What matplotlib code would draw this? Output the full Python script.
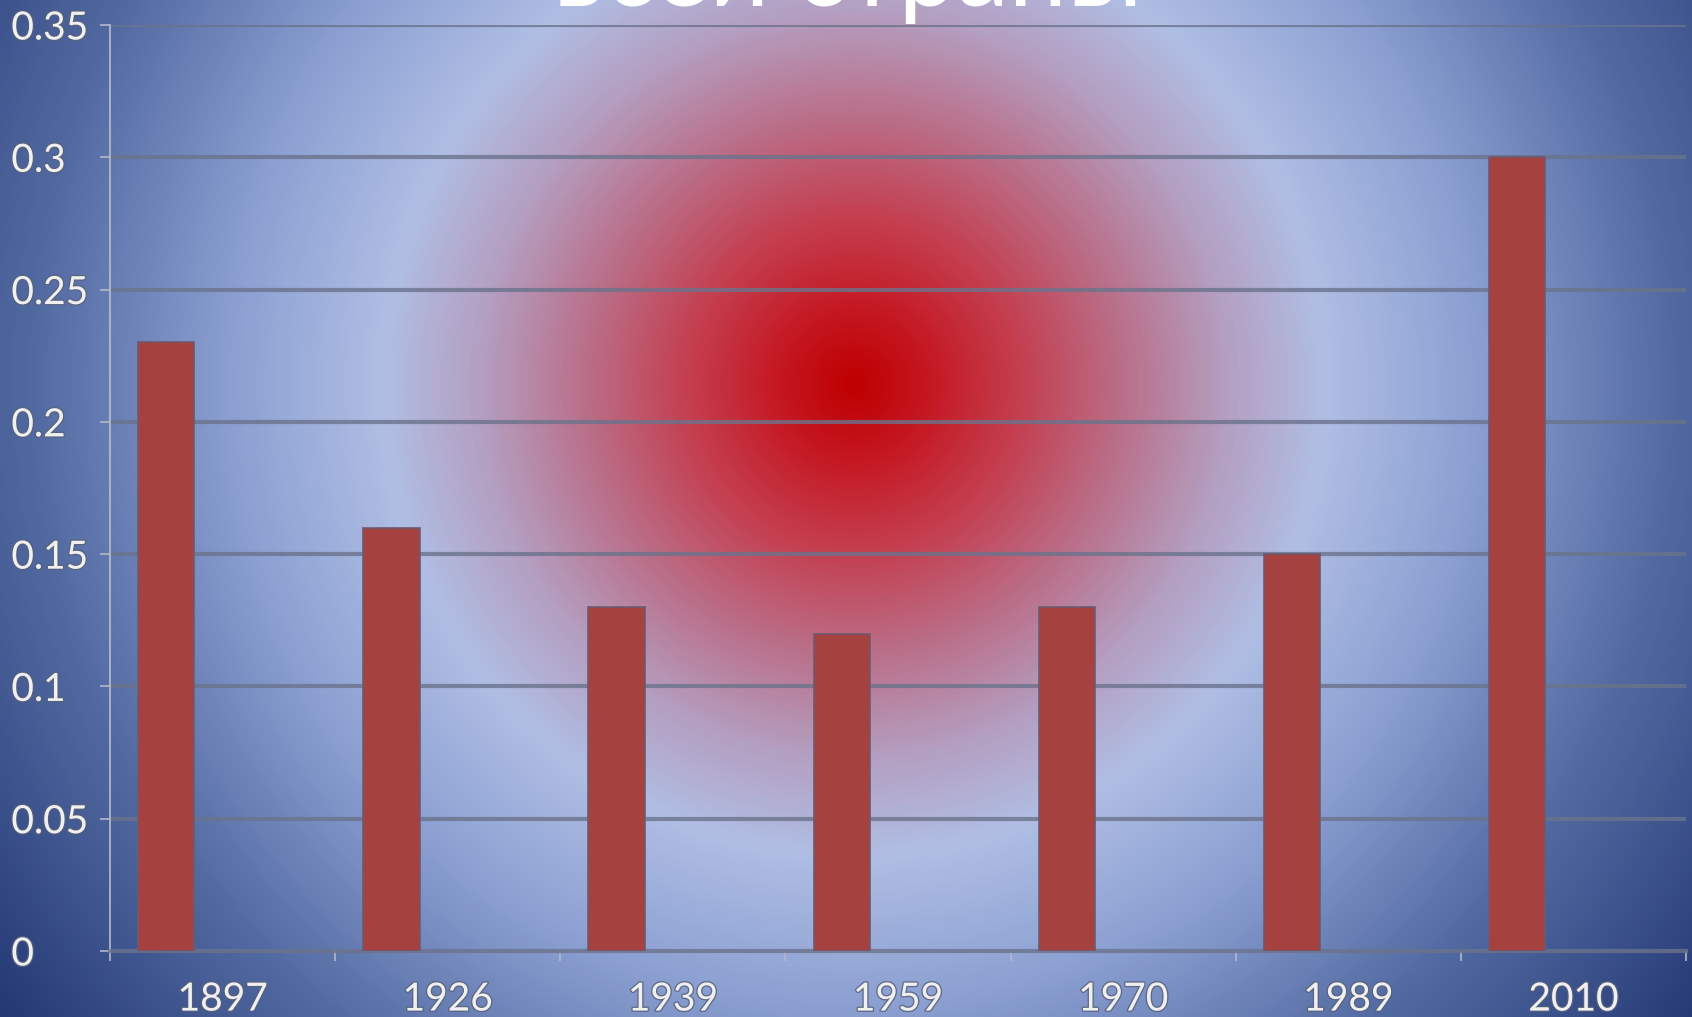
import numpy as np
import matplotlib
matplotlib.use("Agg")
import matplotlib.pyplot as plt
import matplotlib.patheffects as pe
from matplotlib.colors import LinearSegmentedColormap

# данные
years = ["1897", "1926", "1939", "1959", "1970", "1989", "2010"]
values = [0.23, 0.16, 0.13, 0.12, 0.13, 0.15, 0.30]
yticks = [0, 0.05, 0.1, 0.15, 0.2, 0.25, 0.3, 0.35]
ytick_labels = ["0", "0.05", "0.1", "0.15", "0.2", "0.25", "0.3", "0.35"]
title = "всей страны"

plt.rcParams['font.family'] = ['Lato', 'Open Sans', 'DejaVu Sans']

W, H = 1692, 1017
fig = plt.figure(figsize=(W / 100, H / 100), dpi=100)

# radial background
bg = fig.add_axes([0, 0, 1, 1], zorder=-10)
bg.set_axis_off()
yy, xx = np.mgrid[0:H:3, 0:W:3]
r = np.hypot(xx - 852, yy - 383)
stops = [0, 70, 170, 270, 370, 470, 620, 820, 1070]
cols = [(192, 0, 0), (196, 22, 32), (196, 65, 82), (186, 112, 138),
        (180, 158, 192), (176, 190, 228), (140, 160, 210), (82, 106, 162),
        (35, 55, 115)]
cmap = LinearSegmentedColormap.from_list(
    "bg", [(s / stops[-1], tuple(c / 255 for c in col)) for s, col in zip(stops, cols)])
bg.imshow(r / stops[-1], cmap=cmap, vmin=0, vmax=1, aspect='auto',
          interpolation='bilinear', extent=[0, 1, 0, 1])

ax = fig.add_axes([110 / W, 1 - 951 / H, (1686 - 110) / W, (951 - 25) / H])
ax.set_facecolor('none')

x = np.arange(len(years))
ax.bar(x - 0.25, values, width=0.25, color='#A5423F', edgecolor='#6E5A70',
       linewidth=1.2, zorder=3)

ax.set_xlim(-0.5, len(years) - 0.5)
ax.set_ylim(0, 0.35)

grid_col = (0.42, 0.45, 0.55, 0.8)
ax.set_yticks(yticks)
ax.set_yticklabels(ytick_labels)
for yv in yticks[1:]:
    ax.axhline(yv, color=grid_col, linewidth=3, zorder=1)

ax.set_xticks(np.arange(len(years) + 1) - 0.5)
ax.set_xticklabels([])
ax.set_xticks(x, years, minor=True)
ax.tick_params(axis='x', which='major', direction='out', length=7, width=1.2,
               color=(0.7, 0.72, 0.8))
ax.tick_params(axis='x', which='minor', length=0, pad=22, labelsize=28,
               labelcolor='#F0F0F0')
ax.tick_params(axis='y', direction='out', length=7, width=1.2,
               color=(0.7, 0.72, 0.8), pad=64, labelsize=28,
               labelcolor='#F0F0F0')
for lbl in ax.get_yticklabels():
    lbl.set_ha('left')

shadow = [pe.withStroke(linewidth=2, foreground=(0.35, 0.38, 0.48, 0.8))]
for lbl in ax.get_yticklabels() + ax.get_xticklabels(minor=True):
    lbl.set_path_effects(shadow)

for s in ['top', 'right']:
    ax.spines[s].set_visible(False)
ax.spines['left'].set_color((0.72, 0.74, 0.8))
ax.spines['left'].set_linewidth(1.2)
ax.spines['bottom'].set_color(grid_col)
ax.spines['bottom'].set_linewidth(3)

fig.text(848 / W, 1 - 6 / H, title, ha='center', va='baseline',
         fontsize=75, color='white')

fig.savefig("out.png", dpi=100)
